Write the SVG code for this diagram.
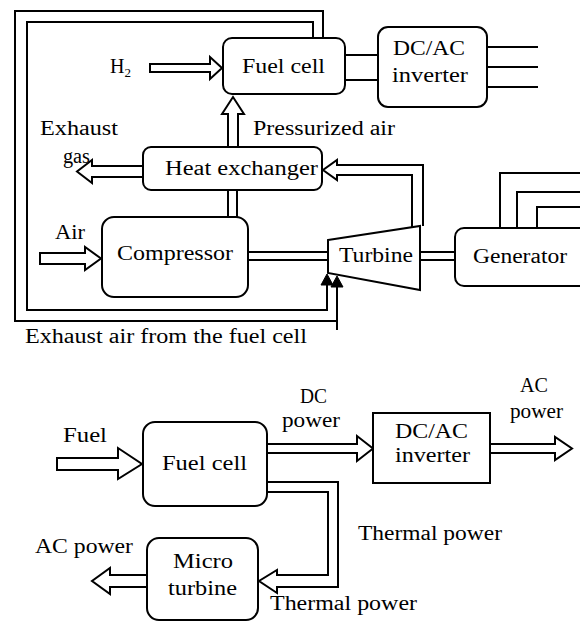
<svg xmlns="http://www.w3.org/2000/svg" width="580" height="624" viewBox="0 0 580 624">
<style>
.box{fill:#fff;stroke:#000;stroke-width:2}
.ln{fill:none;stroke:#000;stroke-width:2;stroke-linejoin:miter}
.ha{fill:#fff;stroke:#000;stroke-width:2;stroke-linejoin:miter}
.sa{fill:#000;stroke:#000;stroke-width:1}
text{font-family:"Liberation Serif","Times New Roman",serif;font-size:20px;fill:#000}
</style>
<rect width="580" height="624" fill="#fff"/>
<g id="connectors">
  <!-- exhaust air loops -->
  <polyline class="ln" points="323,38 323,11 15,11 15,321 337,321"/>
  <polyline class="ln" points="337,330 337,280"/>
  <polygon class="sa" points="337,276 331,287 343,287"/>
  <polyline class="ln" points="313,38 313,22 27,22 27,310 327,310 327,278"/>
  <polygon class="sa" points="327,274 321,285 333,285"/>
  <!-- H2 arrow -->
  <polygon class="ha" points="150,64 210,64 210,57 222,68 210,79 210,72 150,72"/>
  <!-- pressurized air -->
  <polyline class="ha" points="228,147 228,114 222,114 233,97 244,114 238,114 238,147"/>
  <!-- fuel cell to inverter -->
  <line class="ln" x1="345" y1="55" x2="378" y2="55"/>
  <line class="ln" x1="345" y1="80" x2="378" y2="80"/>
  <!-- inverter outputs -->
  <line class="ln" x1="487" y1="47" x2="538" y2="47"/>
  <line class="ln" x1="487" y1="67" x2="538" y2="67"/>
  <line class="ln" x1="487" y1="87" x2="538" y2="87"/>
  <!-- exhaust gas -->
  <polyline class="ha" points="143,166 92,166 92,160 77,171.5 92,183 92,177 143,177"/>
  <!-- turbine to heat exchanger -->
  <polyline class="ha" points="423,226 423,165 337,165 337,160 323,170 337,180 337,175 412,175 412,227"/>
  <!-- HX to compressor -->
  <line class="ln" x1="228" y1="190" x2="228" y2="217"/>
  <line class="ln" x1="237" y1="190" x2="237" y2="217"/>
  <!-- air -->
  <polygon class="ha" points="40,253 85,253 85,247 101,258.5 85,270 85,264 40,264"/>
  <!-- compressor to turbine shaft -->
  <line class="ln" x1="248" y1="252" x2="328" y2="252"/>
  <line class="ln" x1="248" y1="260" x2="328" y2="260"/>
  <!-- turbine to generator -->
  <line class="ln" x1="420" y1="252" x2="455" y2="252"/>
  <line class="ln" x1="420" y1="260" x2="455" y2="260"/>
  <!-- generator outputs -->
  <polyline class="ln" points="500,228 500,173 582,173"/>
  <polyline class="ln" points="517,228 517,192 582,192"/>
  <polyline class="ln" points="537,228 537,207 582,207"/>
  <!-- bottom diagram -->
  <polygon class="ha" points="57,458 118,458 118,448 142,464 118,479 118,470 57,470"/>
  <polyline class="ha" points="267,444 357,444 357,436 373,448.5 357,461 357,453 267,453"/>
  <polyline class="ha" points="490,444 555,444 555,437 572,448.5 555,460 555,453 490,453"/>
  <polyline class="ha" points="267,482 338,482 338,587 277,587 277,593 259,581 277,570 277,575 328,575 328,492 267,492"/>
  <polyline class="ha" points="147,575 110,575 110,568 92,581 110,594 110,587 147,587"/>
</g>
<g id="fuelcell-top">
  <rect class="box" x="223" y="38" width="122" height="56" rx="9"/>
  <text x="242" y="73" textLength="83" lengthAdjust="spacingAndGlyphs">Fuel cell</text>
</g>
<g id="inverter-top">
  <rect class="box" x="378" y="27" width="109" height="80" rx="10"/>
  <text x="393" y="55" textLength="72" lengthAdjust="spacingAndGlyphs">DC/AC</text>
  <text x="392" y="82" textLength="76" lengthAdjust="spacingAndGlyphs">inverter</text>
</g>
<g id="heat-exchanger">
  <rect class="box" x="143" y="147" width="179" height="43" rx="8"/>
  <text x="165" y="175" textLength="153" lengthAdjust="spacingAndGlyphs">Heat exchanger</text>
</g>
<g id="compressor">
  <rect class="box" x="102" y="217" width="146" height="80" rx="12"/>
  <text x="117" y="260" textLength="116" lengthAdjust="spacingAndGlyphs">Compressor</text>
</g>
<g id="turbine">
  <polygon class="box" points="328,240 420,226 420,290 328,273"/>
  <text x="339" y="262" textLength="74" lengthAdjust="spacingAndGlyphs">Turbine</text>
</g>
<g id="generator">
  <rect class="box" x="455" y="228" width="140" height="58" rx="9"/>
  <text x="473" y="263" textLength="94" lengthAdjust="spacingAndGlyphs">Generator</text>
</g>
<g id="labels-top">
  <text x="110" y="73">H<tspan font-size="13" dy="4">2</tspan></text>
  <text x="40" y="135" textLength="78" lengthAdjust="spacingAndGlyphs">Exhaust</text>
  <text x="63" y="163" textLength="27" lengthAdjust="spacingAndGlyphs">gas</text>
  <text x="253" y="135" textLength="142" lengthAdjust="spacingAndGlyphs">Pressurized air</text>
  <text x="55" y="239" textLength="30" lengthAdjust="spacingAndGlyphs">Air</text>
  <text x="25" y="343" textLength="282" lengthAdjust="spacingAndGlyphs">Exhaust air from the fuel cell</text>
</g>
<g id="fuelcell-bottom">
  <rect class="box" x="143" y="422" width="124" height="84" rx="12"/>
  <text x="162" y="470" textLength="85" lengthAdjust="spacingAndGlyphs">Fuel cell</text>
</g>
<g id="inverter-bottom">
  <rect class="box" x="373" y="413" width="117" height="70"/>
  <text x="395" y="438" textLength="73" lengthAdjust="spacingAndGlyphs">DC/AC</text>
  <text x="395" y="462" textLength="75" lengthAdjust="spacingAndGlyphs">inverter</text>
</g>
<g id="microturbine">
  <rect class="box" x="147" y="538" width="111" height="82" rx="12"/>
  <text x="173" y="568" textLength="60" lengthAdjust="spacingAndGlyphs">Micro</text>
  <text x="168" y="595" textLength="69" lengthAdjust="spacingAndGlyphs">turbine</text>
</g>
<g id="labels-bottom">
  <text x="63" y="442" textLength="44" lengthAdjust="spacingAndGlyphs">Fuel</text>
  <text x="300" y="403" textLength="27" lengthAdjust="spacingAndGlyphs">DC</text>
  <text x="282" y="427" textLength="58" lengthAdjust="spacingAndGlyphs">power</text>
  <text x="520" y="392" textLength="28" lengthAdjust="spacingAndGlyphs">AC</text>
  <text x="510" y="418" textLength="53" lengthAdjust="spacingAndGlyphs">power</text>
  <text x="358" y="540" textLength="144" lengthAdjust="spacingAndGlyphs">Thermal power</text>
  <text x="35" y="553" textLength="98" lengthAdjust="spacingAndGlyphs">AC power</text>
  <text x="270" y="610" textLength="147" lengthAdjust="spacingAndGlyphs">Thermal power</text>
</g>
</svg>
